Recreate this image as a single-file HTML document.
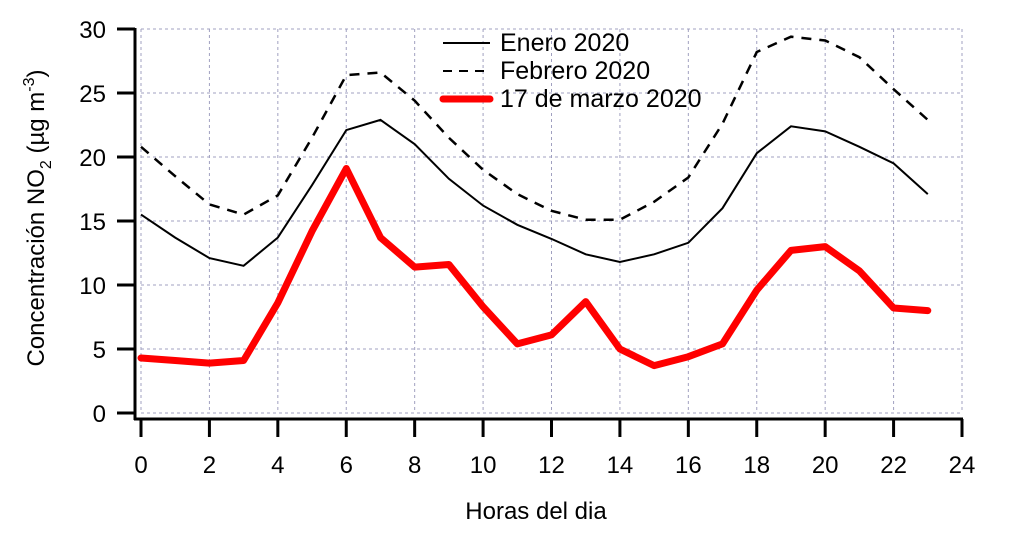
<!DOCTYPE html>
<html><head><meta charset="utf-8"><style>
body{margin:0;background:#fff}
svg{display:block;font-family:"Liberation Sans",Arial,sans-serif}
</style></head><body>
<svg id="c" width="1024" height="537">
<g id="grid"></g>
<g id="axes"></g>
<g id="series"></g>
<text x="536" y="519" font-size="24" text-anchor="middle">Horas del dia</text>
<text transform="translate(44,218) rotate(-90)" font-size="24" text-anchor="middle">Concentración NO<tspan font-size="16" dy="7">2</tspan><tspan dy="-7"> (µg m</tspan><tspan font-size="16" dy="-10">-3</tspan><tspan dy="10">)</tspan></text>
<g>
<g><line x1="443" y1="43" x2="490" y2="43" stroke="#000" stroke-width="2"/><text x="500" y="51" font-size="25">Enero 2020</text></g>
<g><line x1="443" y1="71" x2="490" y2="71" stroke="#000" stroke-width="2" stroke-dasharray="9,7"/><text x="500" y="79" font-size="25">Febrero 2020</text></g>
<g><line x1="443" y1="99" x2="490" y2="99" stroke="#f00" stroke-width="7" stroke-linecap="round"/><text x="500" y="107" font-size="25">17 de marzo 2020</text></g>
</g>
</svg>
<script>
const hours=[0,1,2,3,4,5,6,7,8,9,10,11,12,13,14,15,16,17,18,19,20,21,22,23];
const enero=[15.5,13.7,12.1,11.5,13.7,17.8,22.1,22.9,21,18.3,16.2,14.7,13.6,12.4,11.8,12.4,13.3,16,20.3,22.4,22,20.8,19.5,17.1];
const febrero=[20.8,18.5,16.3,15.5,17,21.5,26.4,26.6,24.4,21.5,19,17.1,15.8,15.1,15.1,16.5,18.4,22.6,28.2,29.4,29.1,27.8,25.3,22.9];
const marzo=[4.3,4.1,3.9,4.1,8.6,14.2,19.1,13.7,11.4,11.6,8.3,5.4,6.1,8.7,5,3.7,4.4,5.4,9.6,12.7,13,11.1,8.2,8.0];
const xTicks=[0,2,4,6,8,10,12,14,16,18,20,22,24];
const yTicks=[0,5,10,15,20,25,30];
const NS="http://www.w3.org/2000/svg";
const X=v=>141+v*(962-141)/24, Y=v=>413-v*(413-29)/30;
function mk(p,t,a){const e=document.createElementNS(NS,t);for(const k in a)e.setAttribute(k,a[k]);p.appendChild(e);return e;}
const grid=document.getElementById('grid'),axes=document.getElementById('axes'),ser=document.getElementById('series');
xTicks.forEach(t=>{
 const g=mk(grid,'line',{x1:X(t),x2:X(t),y1:Y(30),y2:Y(0),stroke:'#a0a0c0','stroke-width':1,'stroke-dasharray':'3,3'});
 
 
 const k=mk(axes,'line',{x1:X(t),x2:X(t),y1:419,y2:437,stroke:'#000','stroke-width':3});
 
 
 const l=mk(axes,'text',{x:X(t),y:473,'font-size':24,'text-anchor':'middle'});l.textContent=t;
 
 
});
yTicks.forEach(t=>{
 const g=mk(grid,'line',{x1:X(0),x2:X(24),y1:Y(t),y2:Y(t),stroke:'#a0a0c0','stroke-width':1,'stroke-dasharray':'3,3'});
 
 
 const k=mk(axes,'line',{x1:117,x2:135,y1:Y(t),y2:Y(t),stroke:'#000','stroke-width':3});
 
 
 const l=mk(axes,'text',{x:106,y:Y(t)+9,'font-size':24,'text-anchor':'end'});l.textContent=t;
 
 
});
const ya=mk(axes,'line',{x1:135,x2:135,y1:Y(30)-1,y2:420,stroke:'#000','stroke-width':3});


const xa=mk(axes,'line',{x1:134,x2:X(24)+1,y1:419,y2:419,stroke:'#000','stroke-width':3});


function line(vals,attrs,name){
 const d=vals.map((v,i)=>(i?'L':'M')+X(hours[i]).toFixed(1)+','+Y(v).toFixed(1)).join(' ');
 const p=mk(ser,'path',Object.assign({d:d,fill:'none'},attrs));
 
 
}
line(enero,{stroke:'#000','stroke-width':2},'line-enero-2020');
line(febrero,{stroke:'#000','stroke-width':2.5,'stroke-dasharray':'10,8'},'line-febrero-2020');
line(marzo,{stroke:'#f00','stroke-width':7,'stroke-linecap':'round','stroke-linejoin':'round'},'line-17-marzo-2020');
</script>
</body></html>
